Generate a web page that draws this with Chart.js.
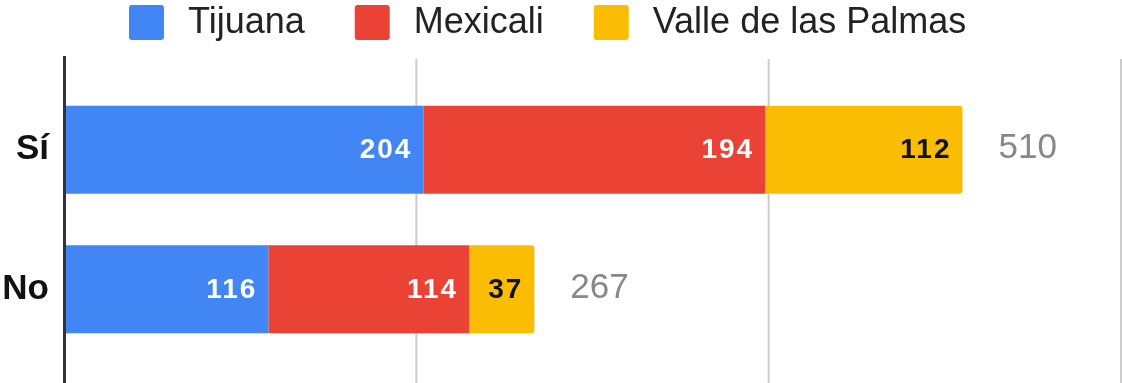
<!DOCTYPE html>
<html>
<head>
<meta charset="utf-8">
<script src="https://cdn.jsdelivr.net/npm/chart.js@4.4.1/dist/chart.umd.min.js"></script>
<style>
  html, body { margin: 0; padding: 0; background: #fff; }
  canvas { display: block; }
</style>
</head>
<body>
<canvas id="votesChart" width="1122" height="383"></canvas>
<script>
const categories = ['Sí', 'No'];
const seriesNames = ['Tijuana', 'Mexicali', 'Valle de las Palmas'];
const tijuana = [204, 116];
const mexicali = [194, 114];
const valle = [112, 37];
const axisTicks = [0, 200, 400, 600];

const seriesColors = ['#4285F4', '#EA4335', '#FBBC04'];
const insideLabelColors = ['#ffffff', '#ffffff', '#111111'];
const FONT = 'Arial, "Liberation Sans", sans-serif';

const seriesValues = [tijuana, mexicali, valle];
const totals = categories.map((_, i) => tijuana[i] + mexicali[i] + valle[i]);

// vertical grid lines and the dark baseline run a bit past the plot area
const gridPlugin = {
  id: 'gridLines',
  beforeDatasetsDraw(chart) {
    const { ctx, scales: { x } } = chart;
    ctx.save();
    ctx.strokeStyle = '#cccccc';
    ctx.lineWidth = 2;
    axisTicks.slice(1).forEach(v => {
      const px = Math.min(x.getPixelForValue(v), chart.width - 1);
      ctx.beginPath();
      ctx.moveTo(px, 59);
      ctx.lineTo(px, chart.height);
      ctx.stroke();
    });
    ctx.restore();
  },
  afterDatasetsDraw(chart) {
    const { ctx, scales: { x } } = chart;
    const px = x.getPixelForValue(0) + 0.5;
    ctx.save();
    ctx.strokeStyle = '#333333';
    ctx.lineWidth = 3;
    ctx.beginPath();
    ctx.moveTo(px, 56);
    ctx.lineTo(px, chart.height);
    ctx.stroke();
    ctx.restore();
  }
};

// value inside each segment, total after each stack
const labelPlugin = {
  id: 'barLabels',
  afterDatasetsDraw(chart) {
    const ctx = chart.ctx;
    ctx.save();
    ctx.textBaseline = 'middle';
    chart.data.datasets.forEach((ds, i) => {
      const meta = chart.getDatasetMeta(i);
      ctx.font = 'bold 28px ' + FONT;
      ctx.letterSpacing = '2px';
      ctx.textAlign = 'right';
      ctx.fillStyle = insideLabelColors[i];
      meta.data.forEach((bar, j) => {
        ctx.fillText(String(ds.data[j]), bar.x - 11, bar.y + 1);
      });
    });
    const last = chart.getDatasetMeta(chart.data.datasets.length - 1);
    ctx.letterSpacing = '0px';
    ctx.font = '35px ' + FONT;
    ctx.textAlign = 'left';
    ctx.fillStyle = '#888888';
    last.data.forEach((bar, j) => {
      ctx.fillText(String(totals[j]), bar.x + 36, bar.y - 1);
    });
    ctx.restore();
  }
};

// legend row across the top
const legendPlugin = {
  id: 'topLegend',
  afterDraw(chart) {
    const ctx = chart.ctx;
    const box = 35, gap = 24, spacing = 50;
    ctx.save();
    ctx.font = '36px ' + FONT;
    ctx.textBaseline = 'middle';
    ctx.textAlign = 'left';
    let x = 129;
    chart.data.datasets.forEach(ds => {
      ctx.fillStyle = ds.backgroundColor;
      ctx.beginPath();
      ctx.roundRect(x, 5, box, box, 3);
      ctx.fill();
      x += box + gap;
      ctx.fillStyle = '#222222';
      ctx.fillText(ds.label, x, 23);
      x += ctx.measureText(ds.label).width + spacing;
    });
    ctx.restore();
  }
};

new Chart(document.getElementById('votesChart'), {
  type: 'bar',
  data: {
    labels: categories,
    datasets: seriesNames.map((name, i) => ({
      label: name,
      data: seriesValues[i],
      backgroundColor: seriesColors[i],
      borderWidth: 0,
      borderRadius: i === seriesNames.length - 1 ? 3 : 0,
      categoryPercentage: 1,
      barPercentage: 0.63
    }))
  },
  options: {
    indexAxis: 'y',
    responsive: false,
    animation: false,
    devicePixelRatio: 1,
    layout: { padding: { top: 80, right: 1, bottom: 24, left: 0 } },
    scales: {
      x: {
        type: 'linear',
        stacked: true,
        display: false,
        min: axisTicks[0],
        max: axisTicks[axisTicks.length - 1],
        ticks: { stepSize: 200 }
      },
      y: {
        stacked: true,
        grid: { display: false, drawTicks: false },
        border: { display: false },
        ticks: {
          padding: 15,
          color: '#111111',
          font: { family: FONT, size: 35, weight: 'bold' }
        },
        afterFit(scale) {
          // fixed gutter for the category names; no extra label overhang
          scale.width = 64;
          scale.paddingTop = 0;
          scale.paddingBottom = 0;
        }
      }
    },
    plugins: {
      legend: { display: false },
      tooltip: { enabled: false }
    }
  },
  plugins: [gridPlugin, labelPlugin, legendPlugin]
});
</script>
</body>
</html>
